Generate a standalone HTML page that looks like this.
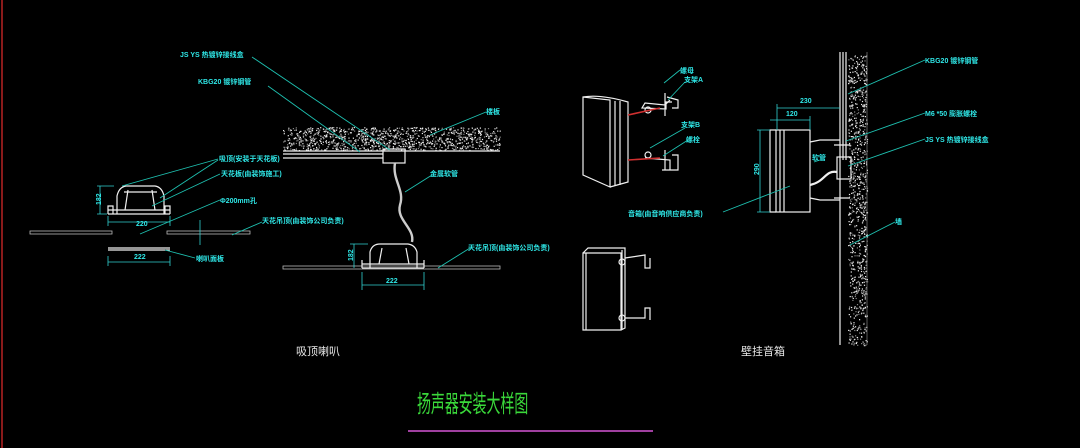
<!DOCTYPE html>
<html><head><meta charset="utf-8"><style>
html,body{margin:0;padding:0;background:#000;}
svg{display:block}
text{font-family:"Liberation Sans","Noto Sans CJK SC",sans-serif;}
.t{fill:#2fe8e8;font-size:7px;font-weight:bold;}
.l{stroke:#1ec0b0;stroke-width:0.9;fill:none}
.w{stroke:#f0f0f0;stroke-width:1.2;fill:none}
.d{stroke:#30d0d0;stroke-width:0.8;fill:none}
</style></head><body>
<svg width="1080" height="448" viewBox="0 0 1080 448" xmlns="http://www.w3.org/2000/svg">
<rect width="1080" height="448" fill="#000"/>
<line x1="2" y1="0" x2="2" y2="448" stroke="#8a1a1a" stroke-width="2"/>

<g id="slab"><rect x="283" y="126" width="217" height="25" fill="#000"/></g>
<line x1="283" y1="151" x2="500" y2="151" class="w"/>
<g id="wall"></g>
<line x1="840" y1="52" x2="840" y2="345" class="w"/>
<line x1="867" y1="52" x2="867" y2="345" stroke="#999" stroke-width="0.6"/>
<line x1="843" y1="52" x2="843" y2="160" class="w" stroke-width="0.7"/>
<line x1="846" y1="52" x2="846" y2="160" class="w" stroke-width="0.7"/>

<!-- left ceiling speaker -->
<g class="w">
<rect x="30" y="231" width="82" height="3" stroke="#bbb" stroke-width="0.8"/>
<rect x="167" y="231" width="83" height="3" stroke="#bbb" stroke-width="0.8"/>
<path d="M117 214 L117 196 Q119 187 126 186 L155 186 Q162 187 164 196 L164 214"/>
<path d="M108 214 L170 214 M108 210 L170 210 M108 214 L108 206 L113 206 L113 214 M165 214 L165 206 L170 206 L170 214"/>
<path d="M128 190 L125 210 M152 190 L155 210 M124 192 L157 192"/>
<path d="M108 248 L170 248 M108 250 L170 250"/>
</g>
<g class="d">
<path d="M108 222 L170 222 M108 216 L108 226 M170 216 L170 226"/>
<path d="M108 262 L170 262 M108 256 L108 266 M170 256 L170 266"/>
<path d="M100 186 L100 214 M97 186 L114 186 M97 214 L107 214"/>
<path d="M200 220 L200 245"/>
</g>
<text class="t" x="136" y="226">220</text>
<text class="t" x="134" y="259">222</text>
<text class="t" x="92" y="204" transform="rotate(-90 97 200)">182</text>
<g class="l">
<path d="M122 186 L218 159 M160 198 L218 160 M152 206 L220 174 M140 234 L220 200 M232 235 L262 222 M165 250 L195 258"/>
</g>
<text class="t" x="219" y="161">吸顶(安装于天花板)</text>
<text class="t" x="221" y="176">天花板(由装饰施工)</text>
<text class="t" x="220" y="203">Φ200mm孔</text>
<text class="t" x="262" y="223">天花吊顶(由装饰公司负责)</text>
<text class="t" x="196" y="261">喇叭面板</text>

<!-- middle ceiling speaker -->
<g class="w">
<path d="M283 154 L383 154 M283 158 L383 158"/>
<rect x="383" y="149" width="22" height="14"/>
<path d="M395 163 C392 180 405 190 400 205 C396 220 415 228 412 242" stroke-width="2.4" stroke="#ccc"/>
<rect x="283" y="266" width="217" height="3" stroke="#bbb" stroke-width="0.8"/>
<path d="M370 268 L370 252 Q372 244 380 244 L408 244 Q415 245 417 252 L417 268"/>
<path d="M362 268 L424 268 M362 264 L424 264 M362 268 L362 260 M424 268 L424 260"/>
<path d="M382 248 L379 264 M406 248 L409 264"/>
</g>
<g class="d"><path d="M362 285 L424 285 M362 272 L362 290 M424 272 L424 290 M350 244 L368 244 M354 244 L354 268"/></g>
<text class="t" x="386" y="283">222</text>
<text class="t" x="345" y="259" transform="rotate(-90 350 256)">182</text>
<g class="l"><path d="M252 57 L390 150 M268 86 L360 152 M430 135 L486 112 M405 192 L432 175 M438 268 L470 248"/></g>
<text class="t" x="180" y="57">JS YS 热镀锌接线盒</text>
<text class="t" x="198" y="84">KBG20 镀锌钢管</text>
<text class="t" x="486" y="114">楼板</text>
<text class="t" x="430" y="176">金属软管</text>
<text class="t" x="468" y="250">天花吊顶(由装饰公司负责)</text>
<text x="296" y="355" fill="#e8e8e8" font-size="11">吸顶喇叭</text>

<!-- exploded wall speaker -->
<g class="w">
<path d="M583 97 L583 175 L610 187 L610 100 Z"/>
<path d="M583 97 Q600 94 628 102 L628 182 L610 187 M615 101 L615 186 M620 101 L620 185"/>
<path d="M665 93 L665 100 M665 100 L665 116 M670 100 L665 105 L645 103 L642 108 L666 109 L666 102 L672 102 M667 97 L678 100 L678 108 L672 108"/>
<path d="M665 150 L665 170 M645 158 L670 160 L670 170 M662 170 L678 170 L678 155 L672 155"/>
<circle cx="648" cy="110" r="3"/><circle cx="648" cy="155" r="3"/>
</g>
<g stroke="#d03030" stroke-width="1.6"><line x1="628" y1="115" x2="660" y2="108"/><line x1="628" y1="160" x2="660" y2="158"/></g>
<g class="l"><path d="M664 83 L680 70 M668 100 L685 82 M650 148 L685 128 M663 156 L688 140"/></g>
<text class="t" x="680" y="73">螺母</text>
<text class="t" x="684" y="82">支架A</text>
<text class="t" x="681" y="127">支架B</text>
<text class="t" x="686" y="142">螺栓</text>
<text class="t" x="628" y="216">音箱(由音响供应商负责)</text>

<g class="w">
<path d="M583 253 L583 330 L621 330 L621 253 Z M583 253 L588 248 L625 248 L625 328 L621 330 M586 253 L586 330 M622 250 L622 330"/>
<path d="M625 258 L645 255 L645 268 L650 268 L650 258 M625 318 L645 318 L645 308 L650 308 L650 320"/>
<circle cx="622" cy="262" r="3"/><circle cx="622" cy="318" r="3"/>
</g>

<!-- wall mounted speaker -->
<g class="w">
<rect x="776" y="130" width="34" height="82"/>
<path d="M780 130 L780 212 M784 130 L784 212 M776 130 L770 130 L770 212 L776 212"/>
<path d="M810 142 L820 140 L840 140 M810 198 L820 200 L840 200"/>
<rect x="837" y="157" width="14" height="22"/>
<path d="M837 172 C825 170 825 182 810 185" stroke-width="2.2"/>
<path d="M834 145 L850 145 M834 198 L850 198"/>
</g>
<g class="d">
<path d="M777 108 L840 108 M777 104 L777 130 M770 120 L810 120 M810 116 L810 130 M760 130 L760 212 M757 130 L770 130 M757 212 L770 212"/>
</g>
<text class="t" x="800" y="103">230</text>
<text class="t" x="786" y="116">120</text>
<text class="t" x="752" y="176" transform="rotate(-90 755 172)">290</text>
<g class="l"><path d="M723 212 L790 186 M848 94 L925 60 M846 141 L925 113 M848 166 L925 139 M850 245 L895 222 M814 162 L820 160"/></g>
<text class="t" x="925" y="63">KBG20 镀锌钢管</text>
<text class="t" x="925" y="116">M6 *50 膨胀螺栓</text>
<text class="t" x="925" y="142">JS YS 热镀锌接线盒</text>
<text class="t" x="812" y="160">软管</text>
<text class="t" x="895" y="224">墙</text>
<text x="741" y="355" fill="#e8e8e8" font-size="11">壁挂音箱</text>

<text x="417" y="412" fill="#3ad83a" font-size="24" transform="translate(417 0) scale(0.58 1) translate(-417 0)">扬声器安装大样图</text>
<line x1="408" y1="431" x2="653" y2="431" stroke="#a040a0" stroke-width="2"/>
</svg>
<script>
(function(){
var ns="http://www.w3.org/2000/svg";var s=1;function r(){s=(s*16807)%2147483647;return s/2147483647;}
function dots(g,x,y,w,h,n){var el=document.getElementById(g);for(var i=0;i<n;i++){var c=document.createElementNS(ns,"rect");c.setAttribute("x",(x+r()*w).toFixed(1));c.setAttribute("y",(y+r()*h).toFixed(1));c.setAttribute("width",1.2);c.setAttribute("height",1.2);c.setAttribute("fill",r()>0.4?"#eee":"#888");el.appendChild(c);}}
dots("slab",283,127,217,23,1100);dots("wall",848,55,19,290,900);
})();
</script>
</body></html>
